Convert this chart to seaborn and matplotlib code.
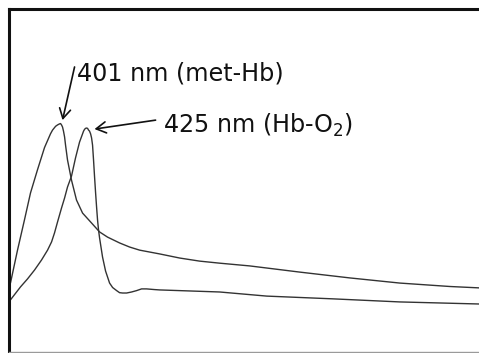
import pandas as pd
import matplotlib.pyplot as plt
import seaborn as sns

# Absorbance spectra (wavelength in nm, absorbance in a.u.)
wl_met = [354.9, 361.4, 367.8, 373.4, 379.8, 386.3, 391.8, 393.7, 396.5, 398.3,
          400.1, 401.1, 402.0, 402.9, 403.8, 404.8, 405.7, 407.5, 411.2, 415.8,
          421.4, 429.7, 437.1, 444.4, 455.5, 464.8, 474.0, 492.4, 510.9, 529.3,
          547.8, 575.5, 621.6, 667.8, 713.9, 760.1, 786.8, 797.0]
abs_met = [0.201, 0.297, 0.385, 0.464, 0.531, 0.596, 0.636, 0.647, 0.658, 0.662,
           0.665, 0.666, 0.662, 0.656, 0.644, 0.627, 0.603, 0.560, 0.501, 0.443,
           0.405, 0.376, 0.350, 0.335, 0.318, 0.306, 0.297, 0.286, 0.274, 0.265,
           0.259, 0.251, 0.233, 0.216, 0.201, 0.191, 0.187, 0.186]

wl_oxy = [354.9, 364.2, 370.6, 377.1, 383.5, 389.1, 392.8, 395.5, 398.3, 402.0,
          404.8, 407.5, 411.2, 414.9, 418.6, 422.3, 423.2, 424.1, 425.1, 426.0,
          426.9, 427.8, 428.8, 429.7, 430.6, 431.5, 432.4, 433.4, 434.3, 435.2,
          436.1, 437.1, 439.8, 442.6, 446.3, 449.1, 452.8, 455.5, 458.3, 462.0,
          466.6, 471.2, 475.8, 480.4, 487.8, 492.4, 547.8, 591.2, 652.1, 713.9,
          786.8, 797.0]
abs_oxy = [0.152, 0.190, 0.213, 0.239, 0.268, 0.297, 0.321, 0.347, 0.379, 0.420,
           0.449, 0.481, 0.513, 0.566, 0.612, 0.644, 0.649, 0.652, 0.653, 0.652,
           0.647, 0.644, 0.636, 0.624, 0.603, 0.560, 0.513, 0.464, 0.423, 0.385,
           0.356, 0.332, 0.277, 0.236, 0.201, 0.188, 0.179, 0.173, 0.172, 0.172,
           0.175, 0.179, 0.184, 0.184, 0.182, 0.181, 0.175, 0.163, 0.155, 0.146,
           0.140, 0.139]

df_met = pd.DataFrame({"wavelength": wl_met, "absorbance": abs_met})
df_oxy = pd.DataFrame({"wavelength": wl_oxy, "absorbance": abs_oxy})

sns.set_style("white")
plt.rcParams['font.family'] = ['DejaVu Sans']

fig = plt.figure(figsize=(4.79, 3.53), dpi=100)
# frame runs off the right edge like the cropped original
ax = fig.add_axes([0.0198, 0.0028, 1.003, 0.9717])

sns.lineplot(data=df_met, x="wavelength", y="absorbance", color="#333333", lw=1.0, ax=ax)
sns.lineplot(data=df_oxy, x="wavelength", y="absorbance", color="#333333", lw=1.0, ax=ax)

ax.set_xlim(354, 797)
ax.set_ylim(0, 1)
ax.set_xticks([])
ax.set_yticks([])
ax.set_xlabel("")
ax.set_ylabel("")

for side in ['left', 'top']:
    ax.spines[side].set_color('#111111')
    ax.spines[side].set_linewidth(2.2)
ax.spines['bottom'].set_color('#9a9a9a')
ax.spines['bottom'].set_linewidth(1.0)
ax.spines['right'].set_visible(False)

arrow = dict(arrowstyle='->,head_length=0.7,head_width=0.4', color='#111111',
             lw=1.2, shrinkA=0, shrinkB=0)

ax.annotate('', xy=(402.9, 0.676), xytext=(414.0, 0.831), arrowprops=arrow)
ax.text(415.8, 0.793, '401 nm (met-Hb)', fontsize=17.2, color='#111111', va='baseline')

ax.annotate('', xy=(432.4, 0.650), xytext=(488.7, 0.676), arrowprops=arrow)
ax.text(495.2, 0.638, r'425 nm (Hb-O$_\mathregular{2}$)', fontsize=17.2, color='#111111', va='baseline')

plt.savefig("out.png", dpi=100)
